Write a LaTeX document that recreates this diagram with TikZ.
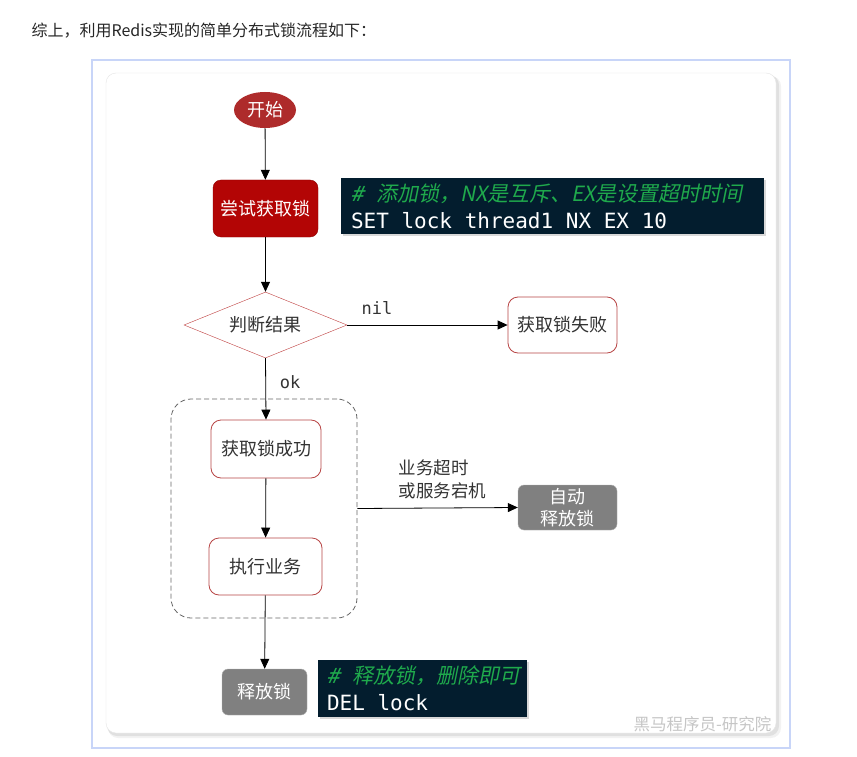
\documentclass[tikz,border=0pt]{standalone}
\usepackage{fontspec}
\setmainfont{Noto Sans CJK SC}
\newfontfamily\codefont{DejaVu Sans Mono}
\newfontfamily\codeit{DejaVu Sans Mono}[FakeSlant=0.2]
\newfontfamily\cjkit{Noto Sans CJK SC}[FakeSlant=0.2]
\usetikzlibrary{shapes.geometric, arrows.meta, shadows}

\definecolor{startred}{HTML}{AE2B2B}
\definecolor{tryred}{HTML}{B30505}
\definecolor{boxred}{HTML}{B84545}
\definecolor{lockgray}{HTML}{808080}
\definecolor{codebg}{HTML}{031D2E}
\definecolor{codegreen}{HTML}{1FAA4C}
\definecolor{frameblue}{HTML}{C8D5F8}
\definecolor{txtgray}{HTML}{333333}

\newcommand\nodesize{\fontsize{18}{22}\selectfont}
\newcommand\codesize{\fontsize{21}{27}\selectfont}

\begin{document}
\begin{tikzpicture}[x=1pt, y=-1pt,
    flow/.style={-{Triangle[length=10pt, width=9pt]}, black, line width=0.8pt},
    redbox/.style={draw=boxred, fill=white, rounded corners=10pt, text=txtgray, font=\nodesize, line width=0.8pt},
    graybox/.style={draw=gray!60, fill=lockgray, rounded corners=6pt, text=white, font=\nodesize, align=center},
    codebox/.style={fill=codebg, text=white, font=\codefont\codesize, align=left, inner xsep=10pt,
        drop shadow={shadow xshift=2pt, shadow yshift=-2pt, opacity=0.3}},
    comment/.style={font=\codefont\fontsize{17}{20}\selectfont, text=txtgray}]
    \useasboundingbox (0,0) rectangle (857,757);
    \fill[white] (0,0) rectangle (857,757);

    % page text and frames
    \node[anchor=west, text=black!85, font=\fontsize{16}{18}\selectfont] (title) at (28,31) {综上，利用Redis实现的简单分布式锁流程如下：};
    \draw[frameblue, line width=1.5pt] (92,60) rectangle (790,748);
    \fill[black, opacity=0.05, rounded corners=10pt] (108,76) rectangle (781,738);
    \fill[black, opacity=0.07, rounded corners=10pt] (107,75) rectangle (779,736);
    \filldraw[fill=white, draw=gray!20, rounded corners=10pt] (106,73) rectangle (776,733);
    \node[anchor=east, text=gray!45, font=\fontsize{16.5}{18}\selectfont] (brand) at (775,724) {黑马程序员-研究院};

    % flow nodes
    \node[ellipse, fill=startred, text=white, font=\nodesize, minimum width=62pt, minimum height=36pt, inner sep=0pt] (start) at (265,110) {开始};
    \node[draw=tryred!80!black, fill=tryred, rounded corners=8pt, text=white, font=\nodesize, minimum width=105pt, minimum height=57pt] (try) at (265.5,208.5) {尝试获取锁};
    \node[diamond, draw=boxred!90!red, fill=white, text=txtgray, font=\nodesize, minimum width=163pt, minimum height=66pt, aspect=2.5, inner sep=0pt] (judge) at (265.5,325) {判断结果};
    \node[redbox, minimum width=109pt, minimum height=56pt] (fail) at (562.5,325) {获取锁失败};
    \node[draw=gray!80!black, dashed, dash pattern=on 5pt off 3pt, rounded corners=20pt, minimum width=186pt, minimum height=219pt, line width=0.8pt] (group) at (264,508.5) {};
    \node[redbox, minimum width=110pt, minimum height=58pt] (succ) at (266,449) {获取锁成功};
    \node[redbox, minimum width=113pt, minimum height=57pt] (exec) at (265.5,566.5) {执行业务};
    \node[graybox, minimum width=99pt, minimum height=45pt, inner sep=0pt] (auto) at (567.5,507.5) {\fontsize{18}{22}\selectfont 自动\\释放锁};
    \node[graybox, minimum width=85pt, minimum height=46pt] (release) at (264.5,692) {释放锁};

    % code blocks
    \node[codebox, minimum width=423pt, minimum height=56pt, text width=403pt] (addcode) at (552.5,206)
        {\spaceskip=0pt\xspaceskip=0pt{\color{codegreen}\mbox{\codeit\#\ \cjkit 添加锁，NX是互斥、EX是设置超时时间}}\\SET lock thread1 NX EX 10};
    \node[codebox, minimum width=209pt, minimum height=57pt, text width=191pt, inner xsep=9pt] (delcode) at (422.5,688.5)
        {\spaceskip=0pt\xspaceskip=0pt{\color{codegreen}\mbox{\codeit\#\ \cjkit 释放锁，删除即可}}\\DEL lock};

    % connectors
    \draw[flow] (start) -- (try);
    \draw[flow] (try) -- (judge);
    \draw[flow] (judge.east) -- (fail.west);
    \draw[flow] (judge.south) -- (succ.north);
    \draw[flow] (succ) -- (exec);
    \draw[flow] (exec) -- (release);
    \draw[flow] (group.east) -- (auto.west);

    % labels
    \node[comment] (nil) at (377,308) {nil};
    \node[comment] (ok) at (290,382) {ok};
    \node[anchor=west, align=left, text=txtgray, font=\fontsize{17.5}{23}\selectfont] (timeout) at (395,479) {业务超时\\或服务宕机};
\end{tikzpicture}
\end{document}
